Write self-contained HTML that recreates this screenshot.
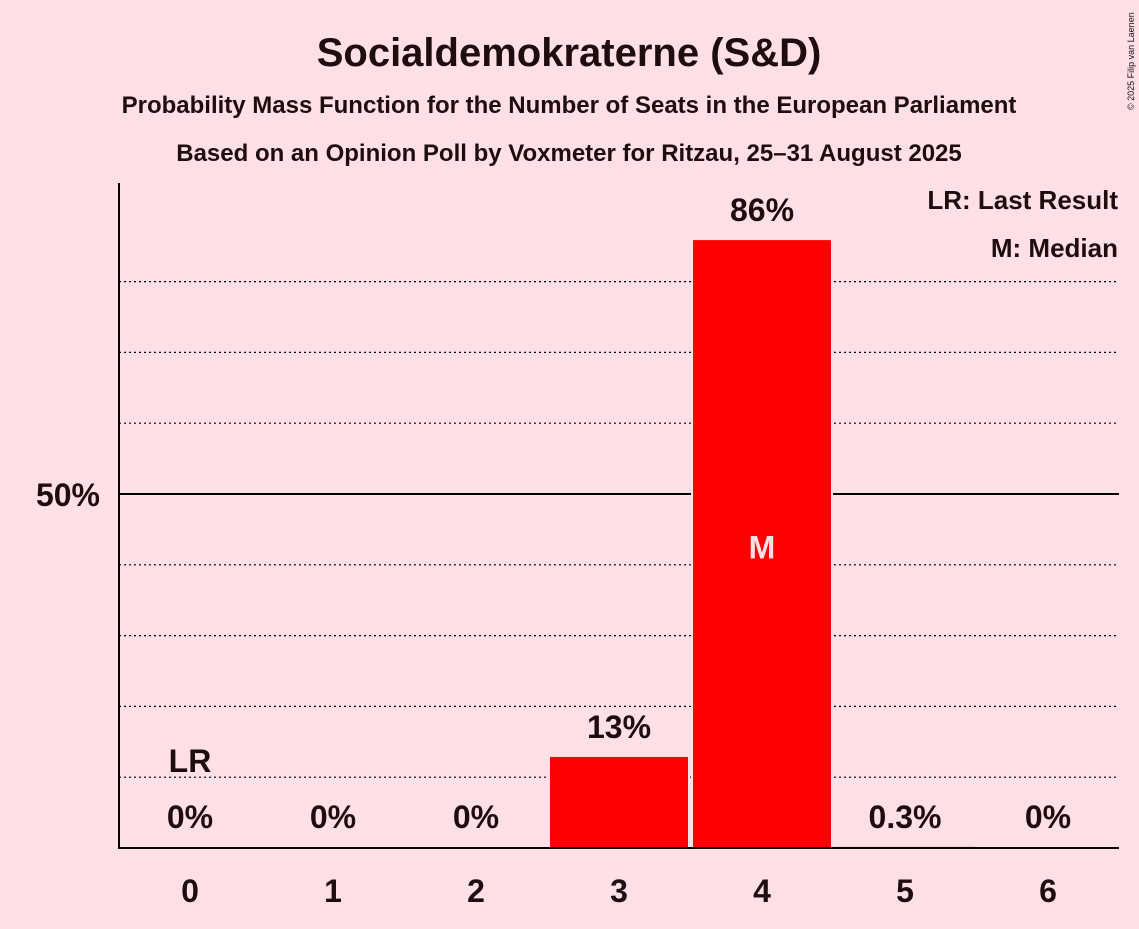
<!DOCTYPE html>
<html><head><meta charset="utf-8">
<style>
body{margin:0;background:#ffe0e6;font-family:"Liberation Sans",sans-serif;}
svg text{font-family:"Liberation Sans",sans-serif;font-weight:bold;fill:#1e0c10;}
</style></head>
<body>
<svg id="chart" width="1139" height="924" xmlns="http://www.w3.org/2000/svg">
<rect width="1139" height="924" fill="#ffe0e6"/>
<text x="569" y="66" text-anchor="middle" font-size="40">Socialdemokraterne (S&amp;D)</text>
<text x="569" y="113" text-anchor="middle" font-size="24">Probability Mass Function for the Number of Seats in the European Parliament</text>
<text x="569" y="161" text-anchor="middle" font-size="24">Based on an Opinion Poll by Voxmeter for Ritzau, 25–31 August 2025</text>
<text x="1134" y="110" font-size="9" transform="rotate(-90 1134 110)" style="font-weight:normal">© 2025 Filip van Laenen</text>
<g id="grid"></g>
<g id="bars"></g>
<line x1="119" y1="183" x2="119" y2="849" stroke="#000" stroke-width="2"/>
<line x1="118" y1="848" x2="1119" y2="848" stroke="#000" stroke-width="2"/>
<text x="100" y="506" text-anchor="end" font-size="32">50%</text>
<text x="1118" y="209" text-anchor="end" font-size="26">LR: Last Result</text>
<text x="1118" y="257" text-anchor="end" font-size="26">M: Median</text>
<g id="labels"></g>
</svg>
<script>
const seats=[0,1,2,3,4,5,6];
const probs=[0,0,0,13,86,0.3,0];
const valueLabels=["0%","0%","0%","13%","86%","0.3%","0%"];
const gridValues=[10,20,30,40,50,60,70,80];
const lastResult=0;
const median=4;
const NS="http://www.w3.org/2000/svg";
function y(v){return 848-v*7.08;}
function x(s){return 190+s*143;}
function mk(t,a,parent){const e=document.createElementNS(NS,t);for(const k in a)e.setAttribute(k,a[k]);document.getElementById(parent).appendChild(e);return e;}
gridValues.forEach(g=>{
  const l=mk('line',{x1:119,x2:1119,y1:y(g),y2:y(g),stroke:'#000','stroke-width':g===50?2:1.2,'stroke-dasharray':g===50?'':'2,3'},'grid');
  
  
});
seats.forEach((s,i)=>{
  const v=probs[i];
  if(v>0){
    const r=mk('rect',{x:x(s)-70,y:y(v),width:140,height:848-y(v),fill:'#ff0000',stroke:'#ffe0e6','stroke-width':2},'bars');
    
    
  }
  const ly = v>5 ? y(v)-18 : 828;
  const t=mk('text',{x:x(s),y:ly,'text-anchor':'middle','font-size':32},'labels');
  t.textContent=valueLabels[i];
  
  
  const xt=mk('text',{x:x(s),y:902,'text-anchor':'middle','font-size':32},'labels');
  xt.textContent=s;
  
  
  if(s===lastResult){
    const lr=mk('text',{x:x(s),y:Math.min(ly,828)-56,'text-anchor':'middle','font-size':32},'labels');
    lr.textContent='LR';
    
    
  }
  if(s===median){
    const m=mk('text',{x:x(s),y:(y(v)+848)/2+15,'text-anchor':'middle','font-size':32,style:'fill:#ffe0e6'},'labels');
    m.textContent='M';
    
    
  }
});
</script>
</body></html>
